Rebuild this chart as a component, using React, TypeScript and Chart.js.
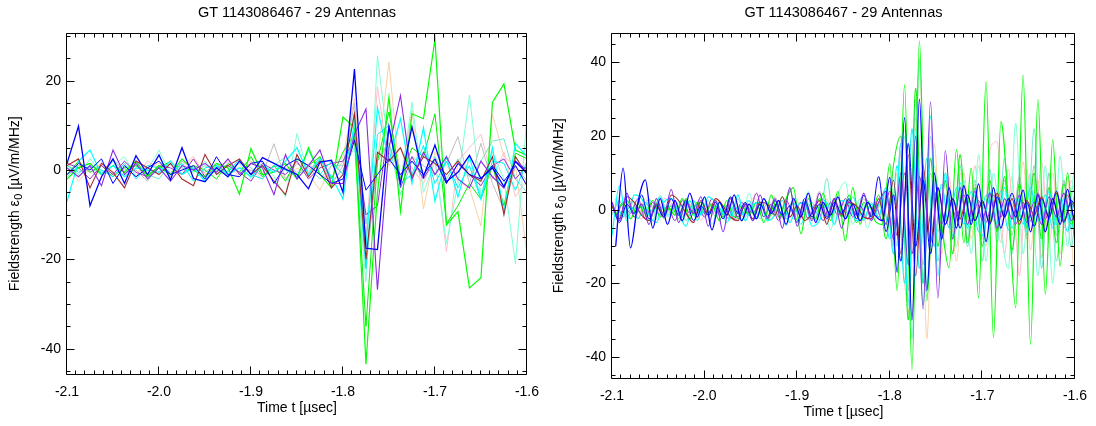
import React, { useEffect, useRef } from 'react';
import { Chart, registerables } from 'chart.js';

Chart.register(...registerables);

const FONT = '"Liberation Sans", Arial, Helvetica, sans-serif';

const TITLE = 'GT 1143086467 - 29 Antennas';
const X_TITLE = 'Time t [µsec]';
const Y_TITLE_MAIN = 'Fieldstrength ε';
const Y_TITLE_SUB = '0';
const Y_TITLE_UNIT = ' [µV/m/MHz]';

const X_MIN = -2.1;
const X_MAX = -1.6;
const X_STEP = 0.1;
const Y_STEP = 20;
const LEFT_Y_MIN = -45.9;
const LEFT_Y_MAX = 30.7;
const RIGHT_Y_MIN = -46;
const RIGHT_Y_MAX = 48;

// ---------- Left panel: raw samples (12.5 ns) ----------
const T_LEFT = [
  -2.1, -2.0875, -2.075, -2.0625, -2.05, -2.0375, -2.025, -2.0125, -2.0, -1.9875,
  -1.975, -1.9625, -1.95, -1.9375, -1.925, -1.9125, -1.9, -1.8875, -1.875, -1.8625,
  -1.85, -1.8375, -1.825, -1.8125, -1.8, -1.7875, -1.775, -1.7625, -1.75, -1.7375,
  -1.725, -1.7125, -1.7, -1.6875, -1.675, -1.6625, -1.65, -1.6375, -1.625, -1.6125, -1.6,
];

const L_BLUE = [1.5, 9.8, -8.0, -1.5, 2.5, -3.0, 3.2, -1.0, 3.4, -2.2, 5.0, -1.9, -2.6, 0.5, -1.5, 2.0, -1.0, 2.8, 1.5, 0.2, -1.0, -4.2, 1.8, 2.2, -5.0, 22.6, -17.5, -17.8, 9.7, -3.0, 9.7, -1.5, 5.6, -2.6, -0.5, 3.3, -1.9, 0.5, -3.7, 1.9, -0.7];
const L_GREEN = [-2.0, 0.5, 1.5, -1.0, 1.0, -0.5, 2.0, -1.5, 1.0, -1.0, 2.5, 0.0, -1.5, 1.5, 0.5, -5.4, 4.8, -1.0, -0.5, 1.5, -2.0, 5.0, -1.0, -4.0, 11.9, 9.5, -43.5, -5.0, 16.3, -9.3, 12.6, 11.5, 29.3, -12.3, -9.3, -26.4, -24.1, 15.2, 19.3, 4.5, 3.3];
const L_GREEN2 = [-1.0, 2.0, -0.5, 1.0, -1.5, 0.5, 1.0, -1.0, 0.5, 2.0, -1.0, 1.0, 0.0, -2.0, 1.5, -0.5, 3.0, -1.5, 1.0, -2.5, 2.5, 1.0, 3.0, -2.0, 4.0, 8.0, -35.0, 2.0, 13.0, -2.0, 5.0, 3.0, 12.6, -12.0, -8.0, -3.0, -6.5, 1.0, -8.0, 3.8, 2.5];
const L_CYAN = [-7.0, 2.0, 4.5, -1.0, 1.0, -1.5, 0.5, 0.0, -0.5, 2.0, -1.0, 0.5, -2.5, 1.0, -1.0, 0.5, -1.5, 1.0, -0.5, 2.0, 5.0, -1.0, 2.5, -1.5, -6.5, 11.0, -17.0, 14.0, 2.0, 11.5, -3.0, 9.5, -7.0, 3.0, -6.0, 3.0, -6.5, 5.0, -9.5, 6.0, 3.0];
const L_PURPLE = [0.5, -1.5, 1.0, -3.5, 4.5, -1.0, 1.5, -2.0, 0.5, -2.5, 1.0, 0.0, 1.5, -0.5, 2.5, -1.0, 1.5, 0.5, -5.5, 3.5, -2.0, 1.0, 4.5, -3.0, -3.0, 8.0, 13.7, -26.8, 5.0, 16.7, -2.0, 4.0, -1.0, 3.0, -2.0, -4.0, 2.0, -1.5, -4.0, 2.0, 0.0];
const L_BROWN = [1.0, 2.5, -4.0, 1.5, -0.5, -4.0, 2.0, 0.5, -1.0, 1.5, -2.0, -3.5, 3.5, -1.0, 1.0, 2.5, -1.0, 1.0, -2.5, -5.5, 3.5, -1.5, 2.0, -4.0, -1.0, 12.6, -20.0, 4.0, 2.0, 5.0, -1.5, 3.0, 1.5, -1.0, 2.0, -1.0, -2.5, 3.0, -10.0, 3.0, -1.0];
const L_AQUA = [0.5, -1.0, 2.5, -0.5, 1.0, 3.0, -1.5, 0.0, 4.5, -1.0, 1.0, -0.5, 2.0, -1.0, 0.0, 1.5, -2.0, 2.0, -1.5, -6.0, 8.2, -1.0, 3.0, -2.5, 0.0, 5.0, -25.0, 25.6, 4.0, -3.0, 15.2, -5.0, 2.0, -16.4, -3.0, 16.8, -6.0, 4.0, -2.0, -21.0, 12.0];
const L_PINK = [0.0, 1.0, -0.5, 1.5, -1.0, 0.5, -1.5, 2.0, 0.5, -0.5, 1.0, 3.0, -1.0, 0.5, 2.0, -1.0, 0.0, -2.0, 1.0, 0.5, -0.5, 1.5, -1.0, -2.0, 2.0, 7.0, -15.0, 18.7, 1.0, 5.0, 0.5, -3.0, 3.0, -18.3, 2.0, 5.0, 8.0, -2.0, 4.0, -6.0, -2.0];
const L_WHEAT = [2.0, -2.5, 0.5, 1.0, -1.0, 2.0, -0.5, 1.0, 1.5, -1.0, 0.5, 2.5, -1.0, 0.0, 1.0, -1.5, 2.0, -0.5, 1.0, -2.0, 0.5, -1.0, -4.5, 1.0, 3.0, 16.0, -12.0, 2.0, 24.2, -3.0, 13.5, -8.7, 4.0, 1.0, -2.5, -4.0, -12.5, 12.5, 3.0, 1.0, -19.0];
const L_GRAY = [-1.0, 0.5, 1.5, -1.0, 2.5, -0.5, 0.0, -2.5, 1.0, -1.5, 2.0, 0.5, -0.5, 1.5, -1.0, 0.5, 0.0, -1.0, 5.9, -2.0, 1.5, -0.5, 3.0, -3.5, 1.0, 15.0, -22.0, 2.0, 6.0, -2.0, 3.0, 1.0, -1.0, 1.5, 7.5, -3.0, 6.0, -3.0, -9.0, 1.0, -2.5];
const L_BLUE2 = [-1.0, 1.5, 0.0, 2.5, -3.0, 1.0, -1.5, 0.5, 2.0, -1.0, 0.0, 1.0, -2.0, 3.0, -1.0, -1.5, 1.5, 2.0, -3.0, 1.0, 2.5, 1.0, -1.0, -3.0, -2.0, 6.7, -4.5, -1.0, 2.5, -1.0, 2.0, -1.0, 2.5, -3.0, 1.5, -1.0, -2.0, 1.0, -2.5, 1.0, -3.5];
const L_CYAN2 = [1.0, -0.5, 1.0, 0.0, -1.5, 1.5, -2.0, 1.0, 0.5, -1.0, 1.5, -2.5, 0.5, 1.0, -0.5, 2.5, -1.0, -2.0, 1.0, 0.0, -1.5, 4.5, -1.0, 2.0, -1.0, 9.0, -22.0, 8.0, 10.0, -3.0, -1.0, 5.5, -3.0, 2.0, -4.0, 1.0, -6.5, 2.0, 1.5, -4.5, 2.0];
const L_PURPLE2 = [1.5, 0.5, -2.0, 1.0, -1.0, 2.0, -0.5, -1.5, 1.0, 0.5, -1.0, 2.5, -1.5, 0.5, 1.0, -0.5, -2.5, 1.5, 0.0, -1.0, 2.0, -2.0, 0.5, 1.5, 2.0, 7.0, -10.0, -8.0, 10.0, -4.0, 3.0, -2.0, 2.5, -3.0, 1.5, -1.0, -3.5, 1.0, 2.5, -2.0, 1.0];
const L_AQUA2 = [-1.5, 1.0, 0.5, -1.0, 2.0, 0.0, 1.0, -1.0, -2.0, 1.5, 0.5, -0.5, 1.0, 0.0, -1.0, 2.0, 0.5, -1.5, 1.0, 3.0, -1.0, 0.5, -2.0, 1.0, 1.0, 13.0, -12.0, 3.0, 6.0, -5.5, 2.0, -2.0, 3.0, -2.0, 2.5, -1.5, 2.0, 6.5, 7.0, -2.0, -5.0];

// ---------- Right panel: up-sampled traces (extrema on two time grids) ----------
const T_RIGHT_A = [
  -2.100, -2.092, -2.084, -2.076, -2.068, -2.060, -2.052, -2.044, -2.036, -2.028,
  -2.020, -2.012, -2.004, -1.996, -1.988, -1.980, -1.972, -1.964, -1.956, -1.948,
  -1.940, -1.932, -1.924, -1.916, -1.908, -1.900, -1.892, -1.884, -1.876, -1.868,
  -1.860, -1.852, -1.844, -1.836, -1.828, -1.820, -1.812, -1.804, -1.796, -1.788,
  -1.780, -1.772, -1.764, -1.756, -1.748, -1.740, -1.732, -1.724, -1.716, -1.708,
  -1.700, -1.692, -1.684, -1.676, -1.668, -1.660, -1.652, -1.644, -1.636, -1.628,
  -1.620, -1.612, -1.604, -1.596,
];
const T_RIGHT_B = [
  -2.096, -2.088, -2.080, -2.072, -2.064, -2.056, -2.048, -2.040, -2.032, -2.024,
  -2.016, -2.008, -2.000, -1.992, -1.984, -1.976, -1.968, -1.960, -1.952, -1.944,
  -1.936, -1.928, -1.920, -1.912, -1.904, -1.896, -1.888, -1.880, -1.872, -1.864,
  -1.856, -1.848, -1.840, -1.832, -1.824, -1.816, -1.808, -1.800, -1.792, -1.784,
  -1.776, -1.768, -1.760, -1.752, -1.744, -1.736, -1.728, -1.720, -1.712, -1.704,
  -1.696, -1.688, -1.680, -1.672, -1.664, -1.656, -1.648, -1.640, -1.632, -1.624,
  -1.616, -1.608, -1.600, -1.592,
];

const R_GREEN = [-1.5, 2.0, -2.5, 1.5, -1.0, 2.5, -2.0, 1.0, -1.5, 3.0, -2.5, 2.0, -1.0, 1.5, -3.0, 2.5, -2.0, 1.0, -1.5, 2.0, -3.5, 4.0, -2.0, 3.0, 6.0, -6.5, 3.0, -2.5, 4.5, -3.0, 5.0, -8.5, 6.0, -4.0, 2.5, -3.0,
  -4.0, 12.5, -22.0, 33.9, -43.5, 45.9, -24.8, 10.0, -4.0, -15.8, 16.3, -9.0, 11.3, -24.0, 34.8, -34.8, 23.9, 2.0, -26.6, 36.6, -36.6, 30.0, -23.0, 19.0, -15.3, 10.0, -8.0, 5.0];
const R_BLUE = [-9.9, 11.3, -10.4, 2.0, 8.1, -5.0, 3.0, -4.0, 2.5, -3.0, 4.5, -2.0, 3.5, -5.5, 2.0, -1.5, 4.0, -3.0, 1.5, -2.5, 3.0, -1.0, 2.5, -4.0, 3.0, -2.0, 4.5, -3.5, 2.0, -1.5, 3.5, -2.5, 1.5, -3.0, 2.0, -1.5,
  -3.0, 8.8, -17.0, 25.0, -30.0, 30.0, -22.0, 10.0, -8.0, 6.0, -5.0, 6.5, -4.0, 7.0, -8.7, 6.0, -5.0, 3.0, -2.0, 5.3, -6.0, 4.0, -6.0, 3.0, -4.0, 5.5, -3.0, 2.0];
const R_CYAN = [-7.0, 6.5, -3.0, 4.0, 3.0, -1.5, -3.5, 2.0, 3.0, -1.0, -4.5, 2.5, -1.5, 3.5, 2.0, -1.0, -2.5, 4.0, -3.0, 1.5, 2.0, -3.0, -1.5, 2.5, -3.5, 1.0, 2.0, -4.5, -3.0, 2.0, -4.0, 2.5, 1.5, -3.0, -2.5, 1.5,
  -2.0, 6.0, -12.0, 18.0, -26.0, 22.0, -20.0, 25.5, -18.0, 10.0, -7.0, 7.3, -5.0, 4.0, -7.0, 5.0, -4.0, 6.0, -5.0, 3.0, -6.0, 4.0, -3.0, 5.0, -4.0, 3.0, -5.0, 2.0];
const R_PURPLE = [2.0, -3.0, 4.5, -2.0, 1.5, -4.0, 3.0, -1.5, 5.5, -3.5, 2.0, -1.0, 3.5, -4.5, 2.5, -6.0, 3.0, -2.0, 1.5, -3.0, 4.0, -2.5, 3.0, -5.0, 6.0, -4.5, 2.0, -3.0, 4.5, -2.0, 3.0, -5.0, 2.5, -1.5, 4.5, -3.0,
  2.0, 5.0, -8.0, 10.0, -15.0, 20.0, -27.0, 29.3, -24.0, 16.0, -8.0, 6.0, -4.0, 5.0, -3.0, 4.5, -5.0, 3.0, -2.5, 4.0, -3.5, 2.0, -4.0, 3.5, -2.0, 4.5, -3.0, 2.5];
const R_BROWN = [1.0, -2.5, 3.5, 2.0, -1.5, -3.0, 1.5, -2.0, 4.0, 2.5, -1.0, -3.5, 2.5, -1.0, 3.0, 1.0, -2.0, -3.0, 1.5, -2.5, 2.0, 1.5, -1.5, 3.5, -2.0, 1.0, -3.0, -1.0, 2.5, -4.0, 3.0, -1.5, 2.0, 1.0, -2.0, -2.5,
  3.0, -4.0, 8.0, -12.0, 15.0, -18.0, 12.0, -9.0, 6.0, -4.0, 3.0, -2.5, 4.0, -3.0, 2.0, -3.5, 4.5, -2.0, 3.0, -4.0, 2.5, -1.5, 3.5, -2.5, 4.5, -3.0, 2.0, -3.5];
const R_AQUA = [2.0, -1.5, 3.0, -2.5, 1.0, -3.0, 4.0, -2.0, 1.5, -3.5, 2.5, -1.0, 3.0, -4.0, 2.0, -2.5, 1.5, -3.0, 4.5, -2.0, 3.0, -1.5, 2.0, -4.5, 3.5, -2.0, 5.0, -3.0, 2.5, -5.5, 4.0, 7.5, -4.0, 3.0, -5.0, 2.0,
  -3.0, 6.0, -10.0, 20.0, -35.0, 41.0, -20.0, 12.0, -8.0, 6.0, -10.0, 8.0, -12.0, 15.0, -14.0, 10.0, -6.0, -16.0, 23.5, -12.0, 10.0, -18.0, 12.0, -20.0, 14.6, -10.0, 12.0, -8.0];
const R_PINK = [-1.0, 2.0, 1.5, -1.0, -2.5, 1.5, -1.0, 3.0, 2.0, -1.0, -1.5, 2.5, -3.0, 1.5, 1.0, -2.0, -2.5, 1.0, -1.5, 3.0, 2.0, -1.5, -1.0, 2.5, -3.5, 2.0, 1.5, -1.0, -2.0, 3.0, -2.5, 1.5, 1.0, -2.0, -3.0, 1.5,
  -2.0, 4.0, -9.0, 15.0, -22.0, 25.0, -18.0, 14.0, -10.0, 8.0, -6.0, 10.0, -8.0, 12.0, -14.0, 16.0, 18.5, -12.0, 9.0, -18.0, 11.0, -7.0, 13.0, -9.0, 6.0, -5.0, 8.0, -6.0];
const R_WHEAT = [1.5, -2.0, 1.0, -1.5, 3.0, -2.0, 1.5, -1.0, 2.0, -3.0, 1.5, -2.5, 1.0, -1.5, 2.5, -1.0, 3.0, -2.0, 1.0, -2.5, 1.5, -3.0, 2.0, -1.0, 2.5, -1.5, 3.5, -2.5, 1.0, -2.0, 3.0, -1.5, 2.0, -3.5, 1.5, -1.0,
  2.0, -5.0, 10.0, -20.0, -30.0, 40.0, -35.0, 18.0, -12.0, 9.0, -14.0, 10.0, -8.0, 12.0, -10.0, 6.0, -9.0, 11.0, -7.0, 13.0, -11.0, 8.0, -6.0, 10.0, -12.0, 9.0, -19.0, 6.0];
const R_GRAY = [0.5, -1.5, 2.5, -2.0, 1.0, -1.0, 2.0, -2.5, 1.5, -1.0, 3.0, -1.5, 1.0, -2.0, 2.5, -1.5, 1.0, -3.0, 2.0, -1.0, 1.5, -2.0, 3.5, -2.5, 1.0, -1.5, 2.0, -1.0, 5.0, -3.5, 1.5, -2.0, 2.5, -1.5, 3.0, -2.0,
  1.0, 6.0, -12.0, 18.0, -22.0, 20.0, -15.0, 10.0, -6.0, 4.0, -5.0, 6.0, -4.0, 7.0, -8.0, 5.0, -6.0, 8.0, -7.0, 9.0, -8.0, 12.0, -13.0, 10.0, -7.0, 8.0, -5.0, 4.0];
const R_BLUE2 = [2.0, -3.5, 1.5, -1.0, 4.0, -2.5, 1.0, -2.0, 3.0, -1.5, 2.5, -3.0, 1.0, -1.5, 2.0, -2.5, 3.5, -1.0, 2.0, -3.0, 1.5, -2.0, 2.5, -1.5, 1.0, -3.5, 3.0, -2.0, 1.5, -2.5, 2.0, -1.0, 3.0, -2.5, 4.0, -2.0,
  9.0, -6.0, 4.0, -14.0, 18.0, -10.0, 8.0, -12.0, 6.0, -4.0, 3.0, -5.0, 4.0, -3.0, 2.5, -4.0, 3.5, -2.0, 4.5, -3.0, 2.0, -4.5, 3.0, -2.0, 5.0, -3.5, 2.5, -1.5];
const R_CYAN2 = [3.0, -2.0, 1.0, -2.5, 2.0, -1.0, 3.5, -1.5, 1.0, -2.0, 2.5, -3.0, 1.5, -1.0, 2.0, -3.5, 1.0, -1.5, 2.5, -2.0, 3.0, -1.0, 1.5, -2.5, 2.0, -4.0, 1.5, -1.0, 3.0, -2.0, 1.0, -2.5, 3.5, -1.5, 2.0, -1.0,
  4.0, -8.0, 12.0, -20.0, 22.0, -16.0, 14.0, -10.0, 7.0, -5.0, 6.0, -4.0, 5.0, -6.0, 4.0, -3.0, 5.0, -5.5, 3.0, -4.0, 6.0, -3.0, 4.0, -5.0, 3.0, -6.0, 4.0, -8.0];
const R_PURPLE2 = [-2.0, 1.5, -1.0, 3.0, -2.5, 2.0, -1.5, 1.0, -3.0, 2.5, -1.0, 1.5, -2.0, 3.0, -1.5, 1.0, -2.5, 2.0, -1.0, 4.5, -2.0, 1.5, -3.0, 2.5, -1.0, 2.0, -2.5, 1.5, -3.0, 2.0, -1.5, 3.0, -2.0, 1.0, -2.5, 1.5,
  -3.0, 5.0, -7.0, 10.0, -12.0, 9.0, -6.0, 5.0, -4.0, 3.0, -2.0, 4.0, -3.0, 2.5, -3.5, 4.0, -2.0, 3.0, -4.0, 2.0, -3.0, 4.5, -2.5, 3.0, -2.0, 4.0, -3.0, 2.0];
const R_AQUA2 = [-1.5, 2.5, -2.0, 1.0, -1.5, 3.0, -2.5, 1.5, -1.0, 2.0, -3.0, 1.5, -1.0, 2.5, -2.0, 1.0, -1.5, 3.0, -2.0, 1.5, -2.5, 2.0, -1.0, 3.5, -2.0, 1.0, -1.5, 2.0, -3.0, 8.5, -4.0, 2.5, -2.0, 1.5, -3.0, 2.0,
  -2.0, 5.0, -10.0, 16.0, -25.0, 30.0, -26.0, 20.0, -14.0, 10.0, -8.0, 12.0, -10.0, 8.0, -14.0, 11.0, -9.0, 14.0, -12.0, 9.0, -7.0, 22.0, -16.0, 10.0, -14.0, 8.0, -10.0, 12.0];
const R_GREEN2 = [1.0, -2.0, 2.5, -1.0, 1.5, -3.0, 2.0, -1.5, 1.0, -2.5, 3.0, -1.0, 2.0, -1.5, 1.0, -2.0, 3.5, -2.5, 1.5, -1.0, 2.0, -3.0, 1.5, -2.0, 5.5, -3.0, 2.0, -2.5, 3.0, -1.5, 2.5, -2.0, 4.0, -3.5, 2.0, -1.5,
  4.0, -8.0, 12.0, 20.0, -30.0, 33.0, -20.0, 14.0, -10.0, 8.0, -12.0, 15.0, -9.0, 6.0, -10.0, 8.0, -6.0, 9.0, -11.0, 7.0, -5.0, 10.0, -8.0, 6.0, -9.0, 7.0, -4.0, 5.0];

// ---------- Styles (first entry is drawn on top) ----------
const STYLE: Record<string, { color: string; width: number }> = {
  blue: { color: '#0000ff', width: 1.3 },
  purple: { color: '#8a2be2', width: 1.1 },
  blue2: { color: '#0000ff', width: 1 },
  brown: { color: '#a52a2a', width: 1.1 },
  cyan: { color: '#00ffff', width: 1.2 },
  green: { color: '#00ff00', width: 1.2 },
  cyan2: { color: '#00f0f0', width: 1 },
  purple2: { color: '#9932cc', width: 1 },
  green2: { color: '#00ee00', width: 1 },
  gray: { color: '#bebebe', width: 1 },
  aqua: { color: '#7fffd4', width: 1 },
  aqua2: { color: '#70e8cc', width: 1 },
  pink: { color: '#ffc0cb', width: 1 },
  wheat: { color: '#f8d2a8', width: 1 },
};

const LEFT_SERIES: [string, number[]][] = [
  ['blue', L_BLUE], ['purple', L_PURPLE], ['blue2', L_BLUE2], ['brown', L_BROWN],
  ['cyan', L_CYAN], ['green', L_GREEN], ['cyan2', L_CYAN2], ['purple2', L_PURPLE2],
  ['green2', L_GREEN2], ['gray', L_GRAY], ['aqua', L_AQUA], ['aqua2', L_AQUA2],
  ['pink', L_PINK], ['wheat', L_WHEAT],
];

const RIGHT_SERIES: [string, number[], number[]][] = [
  ['blue', R_BLUE, T_RIGHT_B], ['purple', R_PURPLE, T_RIGHT_A], ['blue2', R_BLUE2, T_RIGHT_A],
  ['brown', R_BROWN, T_RIGHT_A], ['cyan', R_CYAN, T_RIGHT_A], ['green', R_GREEN, T_RIGHT_B],
  ['cyan2', R_CYAN2, T_RIGHT_B], ['purple2', R_PURPLE2, T_RIGHT_B], ['green2', R_GREEN2, T_RIGHT_A],
  ['gray', R_GRAY, T_RIGHT_A], ['aqua', R_AQUA, T_RIGHT_B], ['aqua2', R_AQUA2, T_RIGHT_A],
  ['pink', R_PINK, T_RIGHT_A], ['wheat', R_WHEAT, T_RIGHT_B],
];

// ---------- Frame / ticks / titles plugin (IDL look) ----------
const framePlugin = {
  id: 'idlFrame',
  afterDatasetsDraw(chart: any, _args: any, opts: any) {
    const { ctx, chartArea: a } = chart;
    const xs = chart.scales.x;
    const ys = chart.scales.y;
    const L = Math.round(a.left) - 0.5;
    const R = Math.round(a.right) - 0.5;
    const T = Math.round(a.top) + 0.5;
    const B = Math.round(a.bottom) - 0.5;
    ctx.save();
    ctx.strokeStyle = '#000';
    ctx.lineWidth = 1;
    ctx.beginPath();
    ctx.rect(L, T, R - L, B - T);
    const vt = (v: number, len: number) => {
      const p = Math.round(xs.getPixelForValue(v)) - 0.5;
      ctx.moveTo(p, B); ctx.lineTo(p, B - len);
      ctx.moveTo(p, T); ctx.lineTo(p, T + len);
    };
    const ht = (v: number, len: number) => {
      const p = Math.round(ys.getPixelForValue(v)) + 0.5;
      ctx.moveTo(L, p); ctx.lineTo(L + len, p);
      ctx.moveTo(R, p); ctx.lineTo(R - len, p);
    };
    const xt = xs.ticks.map((t: any) => t.value);
    for (let i = 0; i < xt.length; i++) {
      vt(xt[i], 8);
      if (i < xt.length - 1) {
        const d = (xt[i + 1] - xt[i]) / 10;
        for (let j = 1; j < 10; j++) vt(xt[i] + d * j, 4);
      }
    }
    const yt = ys.ticks.map((t: any) => t.value);
    const yd = (yt[1] - yt[0]) / 4;
    for (let v = yt[0] - yd; v > ys.min; v -= yd) ht(v, 4);
    for (let i = 0; i < yt.length; i++) {
      ht(yt[i], 8);
      for (let j = 1; j < 4; j++) {
        const v = yt[i] + yd * j;
        if (v < ys.max) ht(v, 4);
      }
    }
    ctx.stroke();

    // chart title
    ctx.fillStyle = '#000';
    ctx.font = `14.5px ${FONT}`;
    ctx.textAlign = 'center';
    ctx.textBaseline = 'alphabetic';
    ctx.fillText(TITLE, (a.left + a.right) / 2, 17);

    // y-axis title with subscript
    const main = `14px ${FONT}`;
    const sub = `11px ${FONT}`;
    ctx.font = main;
    const w1 = ctx.measureText(Y_TITLE_MAIN).width;
    const w3 = ctx.measureText(Y_TITLE_UNIT).width;
    ctx.font = sub;
    const w2 = ctx.measureText(Y_TITLE_SUB).width;
    const total = w1 + w2 + w3;
    ctx.translate(opts.yTitleX, (a.top + a.bottom) / 2);
    ctx.rotate(-Math.PI / 2);
    ctx.textAlign = 'left';
    ctx.textBaseline = 'middle';
    let x0 = -total / 2;
    ctx.font = main;
    ctx.fillText(Y_TITLE_MAIN, x0, 0);
    x0 += w1 + 0.5;
    ctx.font = sub;
    ctx.fillText(Y_TITLE_SUB, x0, 4);
    x0 += w2;
    ctx.font = main;
    ctx.fillText(Y_TITLE_UNIT, x0, 0);
    ctx.restore();
  },
};

type Geo = { yw: number; xh: number; right: number; top: number; xtPad: number; yTitleX: number };

function makeConfig(datasets: any[], yMin: number, yMax: number, g: Geo): any {
  const font = { size: 14, family: FONT };
  return {
    type: 'line',
    data: { datasets },
    options: {
      responsive: false,
      animation: false,
      devicePixelRatio: 1,
      events: [],
      layout: { padding: { top: g.top, right: g.right, left: 0, bottom: 0 } },
      plugins: {
        legend: { display: false },
        tooltip: { enabled: false },
        title: { display: false },
        idlFrame: { yTitleX: g.yTitleX },
      },
      elements: { point: { radius: 0 } },
      scales: {
        x: {
          type: 'linear',
          min: X_MIN,
          max: X_MAX,
          afterFit: (s: any) => { s.height = g.xh; },
          grid: { display: false, drawTicks: false },
          border: { display: false },
          ticks: {
            stepSize: X_STEP, padding: 9, color: '#000', font, maxRotation: 0, autoSkip: false,
            includeBounds: false, callback: (v: any) => Number(v).toFixed(1),
          },
          title: { display: true, text: X_TITLE, color: '#000', font, padding: { top: 0, bottom: g.xtPad } },
        },
        y: {
          type: 'linear',
          min: yMin,
          max: yMax,
          afterFit: (s: any) => { s.width = g.yw; },
          grid: { display: false, drawTicks: false },
          border: { display: false },
          ticks: {
            stepSize: Y_STEP, padding: 6, color: '#000', font, includeBounds: false,
            callback: (v: any) => String(Math.round(Number(v))),
          },
          title: { display: false },
        },
      },
    },
    plugins: [framePlugin],
  };
}

function leftDatasets() {
  return LEFT_SERIES.map(([key, vals]) => ({
    label: key,
    data: vals.map((v, i) => ({ x: T_LEFT[i], y: v })),
    borderColor: STYLE[key].color,
    borderWidth: STYLE[key].width,
    tension: 0,
    pointRadius: 0,
  }));
}

function rightDatasets() {
  return RIGHT_SERIES.map(([key, vals, times]) => ({
    label: key,
    data: vals.map((v, i) => ({ x: times[i], y: v })),
    borderColor: STYLE[key].color,
    borderWidth: STYLE[key].width,
    cubicInterpolationMode: 'monotone',
    pointRadius: 0,
  }));
}

function Panel({ left, build }: { left: number; build: () => any }) {
  const ref = useRef<HTMLCanvasElement>(null);
  useEffect(() => {
    const chart = new Chart(ref.current as HTMLCanvasElement, build());
    return () => chart.destroy();
  }, []);
  return (
    <div style={{ position: 'absolute', left, top: 0, width: 548, height: 426 }}>
      <canvas ref={ref} width={548} height={426} style={{ display: 'block', width: 548, height: 426 }} />
    </div>
  );
}

export default function App() {
  Chart.defaults.font.family = FONT;
  Chart.defaults.color = '#000';
  return (
    <div style={{ position: 'absolute', left: 0, top: 0, width: 1096, height: 426, background: '#fff' }}>
      <Panel
        left={0}
        build={() =>
          makeConfig(leftDatasets(), LEFT_Y_MIN, LEFT_Y_MAX, { yw: 67, xh: 51, right: 19, top: 33, xtPad: 9, yTitleX: 15 })
        }
      />
      <Panel
        left={548}
        build={() =>
          makeConfig(rightDatasets(), RIGHT_Y_MIN, RIGHT_Y_MAX, { yw: 64, xh: 47, right: 17, top: 33, xtPad: 5.6, yTitleX: 11 })
        }
      />
    </div>
  );
}
